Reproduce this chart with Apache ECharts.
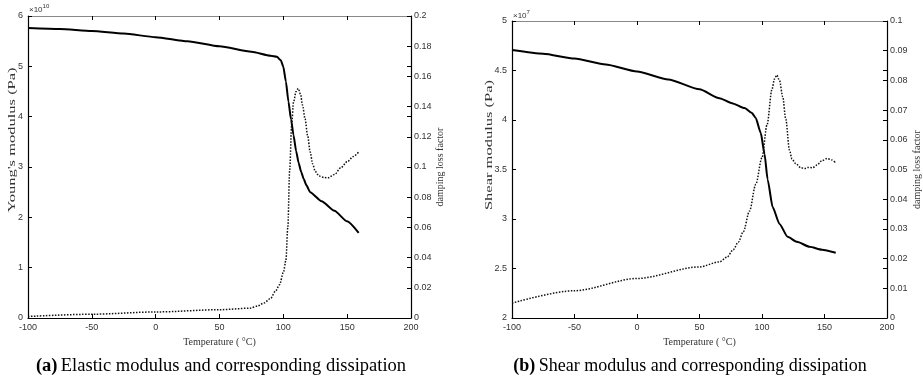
<!DOCTYPE html>
<html>
<head>
<meta charset="utf-8">
<script src="https://cdn.jsdelivr.net/npm/echarts@6/dist/echarts.min.js"></script>
<style>html,body{margin:0;padding:0;background:#fff}#c{width:923px;height:383px}</style>
</head>
<body>
<div id="c"></div>
<script>
// ---- Data (a): Young's modulus (x1e10 Pa) and damping loss factor ----
const tempYoung = [-100,-75,-50,-25,0,25,50,75,90,95,98,100,102,104,106,108,110,112,114,116,118,121,130,140,150,159];
const youngModulus = [5.76,5.74,5.70,5.65,5.58,5.50,5.40,5.29,5.21,5.19,5.12,4.99,4.70,4.30,3.95,3.63,3.32,3.08,2.90,2.76,2.64,2.50,2.32,2.13,1.92,1.69];
const tempDampA = [-100,-50,0,50,74,80,85,90,94,97,100,102,103.5,105,106.5,108,110,111.7,113.5,115,117,119,121,123,125,128,132,135,140,145,150,155,159];
const dampA = [0.001,0.0025,0.004,0.0055,0.0065,0.008,0.010,0.013,0.018,0.022,0.030,0.038,0.060,0.098,0.128,0.143,0.150,0.152,0.148,0.141,0.132,0.121,0.110,0.102,0.097,0.094,0.093,0.0928,0.095,0.0995,0.1035,0.107,0.110];
// ---- Data (b): Shear modulus (x1e7 Pa) and damping loss factor ----
const tempShear = [-100,-75,-50,-25,0,25,50,66,76,86,92,95,99,102,104.5,108.5,114,120.5,128,138,148,159];
const shearModulus = [4.707,4.67,4.62,4.56,4.49,4.41,4.31,4.22,4.17,4.12,4.07,4.02,3.87,3.66,3.40,3.12,2.95,2.82,2.77,2.72,2.69,2.66];
const tempDampB = [-100,-50,0,50,66,72,77,81,85,90,95,100,104,108,110,111.8,114,116.6,119,122,124,127,131,134,137,140.5,144,148,152,156,159];
const dampB = [0.005,0.0092,0.0133,0.0172,0.0189,0.0205,0.023,0.0255,0.029,0.036,0.045,0.054,0.065,0.077,0.0805,0.0818,0.080,0.0745,0.067,0.0565,0.0535,0.052,0.0506,0.0503,0.0507,0.0506,0.0515,0.053,0.0537,0.0532,0.0522];
// ---- Axis ranges / ticks ----
const xTicks = {min: -100, max: 200, interval: 50};
const yA = {min: 0, max: 6, interval: 1};
const yA2 = {min: 0, max: 0.2, interval: 0.02};
const yB = {min: 2, max: 5, interval: 0.5};
const yB2 = {min: 0, max: 0.1, interval: 0.01};

const zip = (xs, ys) => xs.map((x, i) => [x, ys[i]]);
const labelFont = {fontFamily: 'Liberation Sans', fontSize: 9, color: '#333'};
const nameFont = {fontFamily: 'Liberation Serif', fontSize: 10, color: '#333'};

function xAxes(g) {
  return [
    Object.assign({gridIndex: g, type: 'value', position: 'bottom',
      axisLine: {onZero: false, lineStyle: {color: '#000', width: 1.2}},
      axisTick: {inside: true, length: 4, lineStyle: {color: '#000'}},
      axisLabel: Object.assign({margin: 5}, labelFont),
      splitLine: {show: false},
      name: 'Temperature ( \u00B0C)', nameLocation: 'middle', nameGap: 18,
      nameTextStyle: nameFont}, xTicks),
    Object.assign({gridIndex: g, type: 'value', position: 'top',
      axisLine: {onZero: false, lineStyle: {color: '#888', width: 1}},
      axisTick: {inside: true, length: 4, lineStyle: {color: '#000'}},
      axisLabel: {show: false}, splitLine: {show: false}}, xTicks)
  ];
}
function yAxes(g, left, right, rightGap) {
  return [
    Object.assign({gridIndex: g, type: 'value', position: 'left',
      axisLine: {show: true, onZero: false, lineStyle: {color: '#000', width: 1.2}},
      axisTick: {show: true, inside: true, length: 4, lineStyle: {color: '#000'}},
      axisLabel: Object.assign({margin: 5}, labelFont),
      splitLine: {show: false}}, left),
    Object.assign({gridIndex: g, type: 'value', position: 'right',
      axisLine: {show: true, onZero: false, lineStyle: {color: '#000', width: 1.2}},
      axisTick: {show: true, inside: true, length: 4, lineStyle: {color: '#000'}},
      axisLabel: Object.assign({margin: 3}, labelFont),
      splitLine: {show: false},
      name: 'damping loss factor', nameLocation: 'middle', nameGap: rightGap, nameRotate: 90,
      nameTextStyle: nameFont}, right),
    Object.assign({gridIndex: g, type: 'value', position: 'right',
      axisLine: {show: false, onZero: false},
      axisTick: {show: true, inside: true, length: 4, lineStyle: {color: '#000'}},
      axisLabel: {show: false}, splitLine: {show: false}}, left)
  ];
}

const solid = {color: '#000', width: 2};
const dotted = {color: '#111', width: 1.5, type: [1.5, 1.5]};

function yName(text, x, y) {
  return {type: 'text', x: x, y: y, rotation: Math.PI / 2, scaleX: 1.65, scaleY: 1,
    style: {text: text, align: 'center', verticalAlign: 'middle',
      font: '10px "Liberation Serif"', fill: '#333'}};
}

const option = {
  animation: false,
  backgroundColor: '#fff',
  grid: [
    {left: 28, top: 16, width: 383, height: 302},
    {left: 512, top: 21, width: 376, height: 297}
  ],
  xAxis: xAxes(0).concat(xAxes(1)),
  yAxis: yAxes(0, yA, yA2, 24).concat(yAxes(1, yB, yB2, 25)),
  series: [
    {type: 'line', xAxisIndex: 0, yAxisIndex: 0, data: zip(tempYoung, youngModulus), symbol: 'none', smooth: 0.2, smoothMonotone: 'x', lineStyle: solid},
    {type: 'line', xAxisIndex: 0, yAxisIndex: 1, data: zip(tempDampA, dampA), symbol: 'none', smooth: 0.3, smoothMonotone: 'x', lineStyle: dotted},
    {type: 'line', xAxisIndex: 2, yAxisIndex: 3, data: zip(tempShear, shearModulus), symbol: 'none', smooth: 0.2, smoothMonotone: 'x', lineStyle: solid},
    {type: 'line', xAxisIndex: 2, yAxisIndex: 4, data: zip(tempDampB, dampB), symbol: 'none', smooth: 0.3, smoothMonotone: 'x', lineStyle: dotted}
  ],
  graphic: [
    yName("Young's modulus (Pa)", 12, 140),
    yName('Shear modulus (Pa)', 489, 145),
    {type: 'text', left: 29, top: 3, style: {text: '{a|\u00D710}{s|10}', rich: {
      a: {fontFamily: 'Liberation Sans', fontSize: 8, fill: '#333', verticalAlign: 'bottom'},
      s: {fontFamily: 'Liberation Sans', fontSize: 6, fill: '#333', verticalAlign: 'top', padding: [0,0,5,0]}}}},
    {type: 'text', left: 513, top: 9, style: {text: '{a|\u00D710}{s|7}', rich: {
      a: {fontFamily: 'Liberation Sans', fontSize: 8, fill: '#333', verticalAlign: 'bottom'},
      s: {fontFamily: 'Liberation Sans', fontSize: 6, fill: '#333', verticalAlign: 'top', padding: [0,0,5,0]}}}},
    {type: 'text', x: 221, y: 366, style: {text: '{b|(a)} {n|Elastic modulus and corresponding dissipation}', align: 'center', verticalAlign: 'middle', rich: {
      b: {fontFamily: 'Liberation Serif', fontSize: 18.5, fontWeight: 'bold', fill: '#000'},
      n: {fontFamily: 'Liberation Serif', fontSize: 18.5, fill: '#000'}}}},
    {type: 'text', x: 690, y: 366, style: {text: '{b|(b)} {n|Shear modulus and corresponding dissipation}', align: 'center', verticalAlign: 'middle', rich: {
      b: {fontFamily: 'Liberation Serif', fontSize: 18, fontWeight: 'bold', fill: '#000'},
      n: {fontFamily: 'Liberation Serif', fontSize: 18, fill: '#000'}}}}
  ]
};
const chart = echarts.init(document.getElementById('c'), null, {renderer: 'canvas'});
chart.setOption(option);
</script>
</body>
</html>
